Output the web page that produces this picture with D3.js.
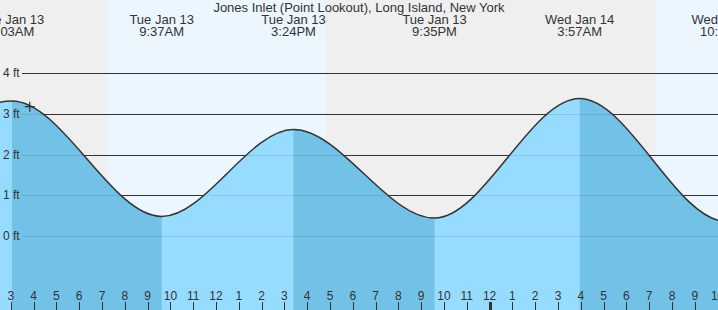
<!DOCTYPE html>
<html>
<head>
<meta charset="utf-8">
<script src="https://cdn.jsdelivr.net/npm/d3@7"></script>
<style>
  body { margin: 0; background: #fff; }
  svg { display: block; font-family: "Liberation Sans", Arial, sans-serif; }
</style>
</head>
<body>
<div id="chart"></div>
<script>
// tide extremes (first and last are just off the chart)
var tideTimes = ["2026-01-12T20:50", "2026-01-13T03:03", "2026-01-13T09:37", "2026-01-13T15:24",
                 "2026-01-13T21:35", "2026-01-14T03:57", "2026-01-14T10:22", "2026-01-14T16:30"];
var tideHeights = [0.50, 3.32, 0.48, 2.62, 0.44, 3.38, 0.36, 2.80];
var tideTypes = ["L", "H", "L", "H", "L", "H", "L", "H"];

// daylight periods
var dayStarts = ["2026-01-13T07:16", "2026-01-14T07:16"];
var dayEnds = ["2026-01-13T16:48", "2026-01-14T16:48"];

var yTicks = [0, 1, 2, 3, 4];
var nowTime = "2026-01-13T03:50";
var nowHeight = 3.18;
var title = "Jones Inlet (Point Lookout), Long Island, New York";

var W = 718, H = 310;
var parse = d3.timeParse("%Y-%m-%dT%H:%M");
var tides = tideTimes.map(function(t, i) {
  return { time: parse(t), h: tideHeights[i], type: tideTypes[i] };
});

var x = d3.scaleTime()
    .domain([parse("2026-01-13T03:00"), parse("2026-01-14T10:00")])
    .range([10.8, 717.6]);
var y = d3.scaleLinear()
    .domain([0, 4])
    .range([236, 73.3]);

var svg = d3.select("#chart").append("svg")
    .attr("width", W)
    .attr("height", H);

// night / day background
svg.append("rect").attr("width", W).attr("height", H).attr("fill", "#efefef");
svg.append("g").selectAll("rect")
  .data(dayStarts)
  .enter().append("rect")
    .attr("x", function(d) { return x(parse(d)); })
    .attr("width", function(d, i) { return x(parse(dayEnds[i])) - x(parse(d)); })
    .attr("y", 0)
    .attr("height", H)
    .attr("fill", "#ebf6ff");

// grid lines
var grid = svg.append("g");
grid.selectAll("line")
  .data(yTicks)
  .enter().append("line")
    .attr("x1", 22).attr("x2", W)
    .attr("y1", function(d) { return Math.round(y(d)) + 0.5; })
    .attr("y2", function(d) { return Math.round(y(d)) + 0.5; })
    .attr("stroke", "#333")
    .attr("stroke-width", 1);

// water
var area = d3.area()
    .x(function(d) { return x(d.time); })
    .y0(H)
    .y1(function(d) { return y(d.h); })
    .curve(d3.curveMonotoneX);
var line = d3.line()
    .x(function(d) { return x(d.time); })
    .y(function(d) { return y(d.h); })
    .curve(d3.curveMonotoneX);

svg.append("clipPath").attr("id", "water")
  .append("path").attr("d", area(tides));

svg.append("path")
    .attr("d", area(tides))
    .attr("fill", "#96dcff");

// falling tide = darker
var falling = tides.filter(function(d, i) { return d.type == "H" && i < tides.length - 1; });
svg.append("g").attr("clip-path", "url(#water)")
  .selectAll("rect")
  .data(falling)
  .enter().append("rect")
    .attr("x", function(d) { return x(d.time); })
    .attr("width", function(d) {
      var i = tides.indexOf(d);
      return x(tides[i + 1].time) - x(d.time);
    })
    .attr("y", 0)
    .attr("height", H)
    .attr("fill", "#72c1e6");

// faint grid lines over water
svg.append("g").attr("clip-path", "url(#water)")
  .selectAll("line")
  .data(yTicks)
  .enter().append("line")
    .attr("x1", 22).attr("x2", W)
    .attr("y1", function(d) { return Math.round(y(d)) + 0.5; })
    .attr("y2", function(d) { return Math.round(y(d)) + 0.5; })
    .attr("stroke", "#000")
    .attr("stroke-opacity", 0.1);

svg.append("path")
    .attr("d", line(tides))
    .attr("fill", "none")
    .attr("stroke", "#333")
    .attr("stroke-width", 1.5);

// y labels
svg.append("g").selectAll("text")
  .data(yTicks)
  .enter().append("text")
    .attr("x", 3)
    .attr("y", function(d) { return y(d) + 4; })
    .attr("fill", "#333")
    .style("font-size", "12px")
    .text(function(d) { return d + " ft"; });

// hour ticks
var hours = x.ticks(d3.timeHour.every(1));
var ticks = svg.append("g");
ticks.selectAll("line")
  .data(hours)
  .enter().append("line")
    .attr("x1", function(d) { return Math.round(x(d)) + 0.5; })
    .attr("x2", function(d) { return Math.round(x(d)) + 0.5; })
    .attr("y1", 302).attr("y2", H)
    .attr("stroke", "#333")
    .attr("stroke-width", function(d) { return d.getHours() == 0 ? 3 : 1; });
ticks.selectAll("text")
  .data(hours)
  .enter().append("text")
    .attr("x", function(d) { return x(d); })
    .attr("y", 299.5)
    .attr("text-anchor", "middle")
    .attr("fill", "#333")
    .style("font-size", "12px")
    .text(d3.timeFormat("%-I"));

// current time marker
var nx = x(parse(nowTime)), ny = y(nowHeight);
svg.append("path")
    .attr("d", "M" + (nx - 5) + "," + ny + "H" + (nx + 5) + "M" + nx + "," + (ny - 5) + "V" + (ny + 5))
    .attr("stroke", "#333")
    .attr("stroke-width", 1.2);

// extreme labels
var fmtDay = d3.timeFormat("%a %b %-d");
var fmtTime = d3.timeFormat("%-I:%M%p");
var shown = tides.slice(1, 7);
var lbl = svg.append("g").selectAll("text")
  .data(shown)
  .enter().append("text")
    .attr("text-anchor", "middle")
    .attr("fill", "#333")
    .style("font-size", "13px");
lbl.append("tspan")
    .attr("x", function(d) { return x(d.time); })
    .attr("y", 24)
    .text(function(d) { return fmtDay(d.time); });
lbl.append("tspan")
    .attr("x", function(d) { return x(d.time); })
    .attr("y", 36)
    .text(function(d) { return fmtTime(d.time); });

svg.append("text")
    .attr("x", 359)
    .attr("y", 12)
    .attr("text-anchor", "middle")
    .attr("fill", "#333")
    .style("font-size", "13px")
    .text(title);
</script>
</body>
</html>
